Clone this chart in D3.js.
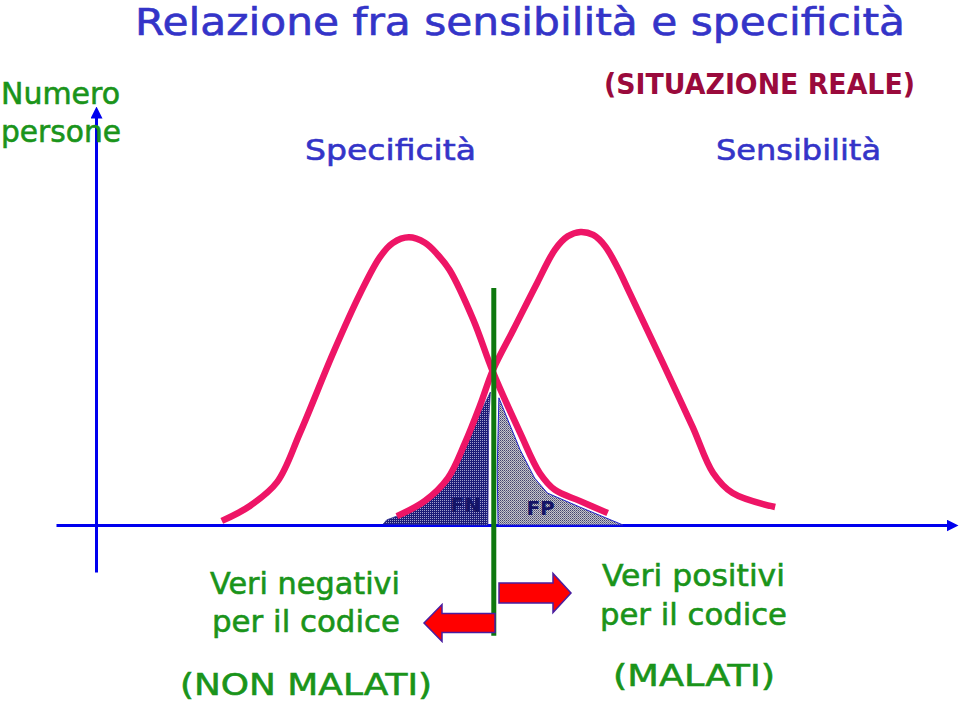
<!DOCTYPE html>
<html><head><meta charset="utf-8">
<script src="https://cdn.jsdelivr.net/npm/d3@7"></script>
<style>html,body{margin:0;padding:0;background:#fff;}svg{display:block;}</style>
</head><body>
<svg id="c" width="960" height="703"></svg>
<script>
// ---- data (x: test value, y: number of persons) ----
const healthyCurve = [[14.8,1.2],[18.1,5.6],[21.3,12.6],[24.0,27.1],[27.9,50.6],[31.1,68.2],[33.4,78.8],[34.9,82.9],[36.8,84.6],[38.7,83.0],[40.2,79.5],[41.6,75.0],[44.4,60.3],[46.7,45.0],[49.9,27.1],[52.2,15.3],[54.0,10.3],[56.9,7.1],[60.2,3.5]];
const sickCurve = [[35.4,2.6],[38.7,7.1],[41.4,13.8],[43.4,24.1],[45.2,35.3],[46.7,45.6],[49.1,57.4],[51.9,71.2],[54.0,81.0],[55.5,84.9],[57.0,86.2],[58.5,85.3],[59.9,82.0],[61.4,75.5],[62.8,68.2],[66.7,47.6],[70.2,28.8],[72.6,15.3],[74.9,9.4],[79.9,5.3]];
const fnArea = [[33.8,0.3],[34.2,1.5],[37.3,4.4],[40.1,9.4],[41.6,14.1],[43.2,22.9],[45.2,32.9],[46.4,39.1],[46.2,30.9],[46.1,0]];
const fpArea = [[47.4,37.4],[48.7,29.4],[49.9,22.1],[51.6,13.8],[53.1,9.4],[56.9,5.3],[62.0,0],[47.3,0],[47.2,16.2]];
const cutoff = 46.8;
const cutoffSpan = [69.7,-32.6];
const areaLabels = [{t:"FN",x:43.5,y:3.8},{t:"FP",x:52.3,y:3.0}];

const svg = d3.select("#c");
const x = d3.scaleLinear().domain([0,100]).range([96,946]);
const y = d3.scaleLinear().domain([0,100]).range([525,185]);
const FONT = "'Comic Sans MS','DejaVu Sans',sans-serif";

// defs
const defs = svg.append("defs");
const pFN = defs.append("pattern").attr("id","pfn").attr("width",2).attr("height",2).attr("patternUnits","userSpaceOnUse");
pFN.append("rect").attr("width",2).attr("height",2).attr("fill","#1c1c78");
pFN.append("rect").attr("width",1).attr("height",1).attr("fill","#a0a0cc");
const pFP = defs.append("pattern").attr("id","pfp").attr("width",2).attr("height",2).attr("patternUnits","userSpaceOnUse");
pFP.append("rect").attr("width",2).attr("height",2).attr("fill","#c4c4cc");
pFP.append("rect").attr("width",1).attr("height",1).attr("fill","#44446e");
pFP.append("rect").attr("x",1).attr("y",1).attr("width",1).attr("height",1).attr("fill","#75758f");
defs.append("marker").attr("id","arr").attr("viewBox","0 0 10 10").attr("refX",5).attr("refY",5)
  .attr("markerWidth",4).attr("markerHeight",4).attr("orient","auto").attr("markerUnits","strokeWidth")
  .append("path").attr("d","M0,0L10,5L0,10Z").attr("fill","#0000ee");

// axes
const xa = d3.scaleLinear().domain([0,1]).range([56,952]);
const ya = d3.scaleLinear().domain([0,1]).range([572,112]);
const gx = svg.append("g").attr("transform",`translate(0,${y(0)})`).call(d3.axisBottom(xa).tickValues([]).tickSizeOuter(0));
const gy = svg.append("g").attr("transform",`translate(${x(0)},0)`).call(d3.axisLeft(ya).tickValues([]).tickSizeOuter(0));
[gx,gy].forEach(g=>g.select(".domain").attr("stroke","#0000ee").attr("stroke-width",3).attr("marker-end","url(#arr)"));

// shaded areas
const poly = d3.line().x(d=>x(d[0])).y(d=>y(d[1])).curve(d3.curveLinearClosed);
svg.append("path").attr("d",poly(fnArea)).attr("fill","url(#pfn)").attr("stroke","#2a2a90").attr("stroke-width",0.8);
svg.append("path").attr("d",poly(fpArea)).attr("fill","url(#pfp)").attr("stroke","#2222cc").attr("stroke-width",1);
svg.selectAll("text.al").data(areaLabels).join("text").attr("class","al")
  .attr("x",d=>x(d.x)).attr("y",d=>y(d.y)).attr("text-anchor","middle")
  .attr("font-family","'DejaVu Sans',sans-serif").attr("font-weight","bold").attr("font-size",20)
  .attr("fill","#141466").text(d=>d.t);

// curves
const line = d3.line().x(d=>x(d[0])).y(d=>y(d[1])).curve(d3.curveCatmullRom.alpha(0.5));
[healthyCurve,sickCurve].forEach(c=>svg.append("path").attr("d",line(c)).attr("fill","none")
  .attr("stroke","#ee1566").attr("stroke-width",6.5).attr("stroke-linecap","butt"));

// cutoff line
svg.append("line").attr("x1",x(cutoff)).attr("x2",x(cutoff)).attr("y1",y(cutoffSpan[0])).attr("y2",y(cutoffSpan[1]))
  .attr("stroke","#0e780e").attr("stroke-width",5);

// arrows
function arrow(x0,x1,yc,bh,hh,hl){ // from x0 (tail) to x1 (tip)
  const s = Math.sign(x1-x0), xb = x1 - s*hl;
  return `M${x0},${yc-bh/2}L${xb},${yc-bh/2}L${xb},${yc-hh/2}L${x1},${yc}L${xb},${yc+hh/2}L${xb},${yc+bh/2}L${x0},${yc+bh/2}Z`;
}
svg.append("path").attr("d",arrow(499,571,593,20,39,18)).attr("fill","#ff0000").attr("stroke","#4a1ea0").attr("stroke-width",1.5);
svg.append("path").attr("d",arrow(495,424,623,19,37,18)).attr("fill","#ff0000").attr("stroke","#4a1ea0").attr("stroke-width",1.5);

// texts
const texts = [
  {t:"Relazione fra sensibilità e specificità",x:135,y:35,s:37,w:770,c:"#3434c8"},
  {t:"Numero",x:1,y:104,s:30,w:119,c:"#1a941a"},
  {t:"persone",x:1,y:142,s:30,w:120,c:"#1a941a"},
  {t:"(SITUAZIONE REALE)",x:604,y:94,s:28,w:311,c:"#9a0a3c",b:true},
  {t:"Specificità",x:305,y:160,s:29,w:171,c:"#3434c8"},
  {t:"Sensibilità",x:716,y:160,s:29,w:165,c:"#3434c8"},
  {t:"Veri negativi",x:210,y:594,s:30,w:190,c:"#1a941a"},
  {t:"per il codice",x:212,y:632,s:30,w:188,c:"#1a941a"},
  {t:"(NON MALATI)",x:180,y:695,s:30,w:252,c:"#1a941a"},
  {t:"Veri positivi",x:602,y:586,s:30,w:183,c:"#1a941a"},
  {t:"per il codice",x:600,y:625,s:30,w:187,c:"#1a941a"},
  {t:"(MALATI)",x:613,y:686,s:30,w:162,c:"#1a941a"}
];
svg.selectAll("text.lb").data(texts).join("text").attr("class","lb")
  .attr("x",d=>d.x).attr("y",d=>d.y).attr("font-family",FONT).attr("font-size",d=>d.s)
  .attr("font-weight",d=>d.b?"bold":"normal").attr("fill",d=>d.c)
  .attr("stroke",d=>d.b?"none":d.c).attr("stroke-width",0.6)
  .attr("textLength",d=>d.w).attr("lengthAdjust","spacingAndGlyphs").text(d=>d.t);
</script>
</body></html>
